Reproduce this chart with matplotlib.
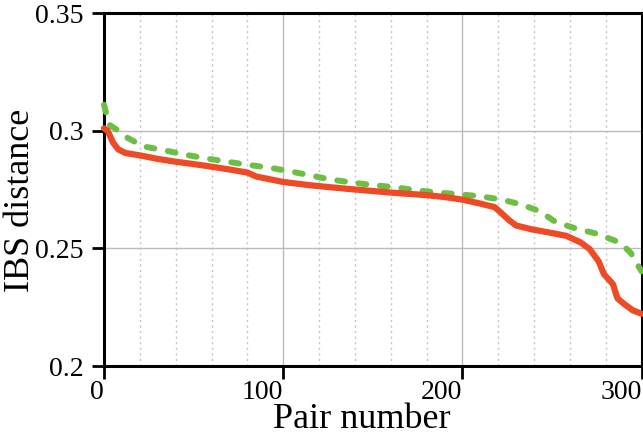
import matplotlib
matplotlib.use('Agg')
import matplotlib.pyplot as plt
from matplotlib.ticker import MultipleLocator

plt.rcParams['font.family'] = ['Liberation Serif', 'DejaVu Serif']

# red (solid) series: pair number vs IBS distance
red_x = [0, 2, 5, 8, 12, 20, 30, 40, 50, 60, 70, 80, 85, 100, 115, 130, 140,
         160, 180, 190, 200, 210, 218, 221, 226, 230, 239, 250, 258, 266, 271,
         276, 279, 284, 286.5, 290, 295, 300]
red_y = [0.301, 0.300, 0.295, 0.292, 0.2905, 0.2895, 0.288, 0.2868, 0.2858,
         0.2847, 0.2835, 0.2822, 0.2805, 0.2782, 0.2768, 0.2757, 0.275,
         0.2737, 0.2726, 0.2718, 0.2707, 0.269, 0.2675, 0.2655, 0.262, 0.2597,
         0.258, 0.2565, 0.2553, 0.2525, 0.2497, 0.2445, 0.239, 0.2348, 0.2288,
         0.2265, 0.2237, 0.2222]

# green (dashed) series
green_x = [0, 1, 3, 8, 13, 22, 34, 46, 57, 69, 80, 93, 104, 115, 126, 138, 150,
           163, 174, 186, 198, 210, 222, 233, 243, 252, 263, 275, 286, 290, 294,
           297, 300]
green_y = [0.311, 0.308, 0.3025, 0.300, 0.297, 0.2933, 0.2916, 0.2897, 0.2882,
           0.2868, 0.2855, 0.2842, 0.2827, 0.281, 0.2793, 0.278, 0.2769, 0.2759,
           0.2747, 0.2737, 0.273, 0.2721, 0.2707, 0.2686, 0.2658, 0.2612, 0.2585,
           0.2562, 0.253, 0.251, 0.248, 0.244, 0.2402]

xticks = [0, 100, 200, 300]
yticks = [0.2, 0.25, 0.3, 0.35]
ytick_labels = ['0.2', '0.25', '0.3', '0.35']

fig = plt.figure(figsize=(6.43, 4.36), dpi=100)
ax = fig.add_axes([104 / 643, 70 / 436, 537.6 / 643, 353 / 436])

ax.plot(green_x, green_y, color='#6dbe45', lw=4.3, dashes=(1.3, 2.3),
        dash_capstyle='round', zorder=3, clip_on=False)
ax.plot(red_x, red_y, color='#ee4a26', lw=4.5, solid_capstyle='round',
        solid_joinstyle='round', zorder=4, clip_on=False)

ax.set_xlim(0, 300)
ax.set_ylim(0.2, 0.35)
ax.set_xticks(xticks)
ax.set_xticklabels([str(t) for t in xticks], ha='right')
ax.set_yticks(yticks)
ax.set_yticklabels(ytick_labels)
ax.xaxis.set_minor_locator(MultipleLocator(20))

ax.grid(True, which='major', color='#bbbbbb', lw=1.0, ls='-')
ax.grid(True, which='minor', axis='x', color='#c4c4c4', lw=1.0, ls=(0, (1.5, 2.5)))
ax.set_axisbelow(True)

ax.tick_params(which='major', direction='out', length=9, width=2,
               labelsize=20, colors='black')
ax.tick_params(axis='x', which='major', pad=1)
ax.tick_params(axis='y', which='major', pad=6)
ax.tick_params(which='minor', length=0)

for s in ax.spines.values():
    s.set_linewidth(2.2)

ax.set_xlabel('Pair number', fontsize=26)
ax.set_ylabel('IBS distance', fontsize=26)
ax.xaxis.set_label_coords(0.479, -0.106)
ax.yaxis.set_label_coords(-0.125, 0.47)

fig.savefig('out.png', dpi=100)
